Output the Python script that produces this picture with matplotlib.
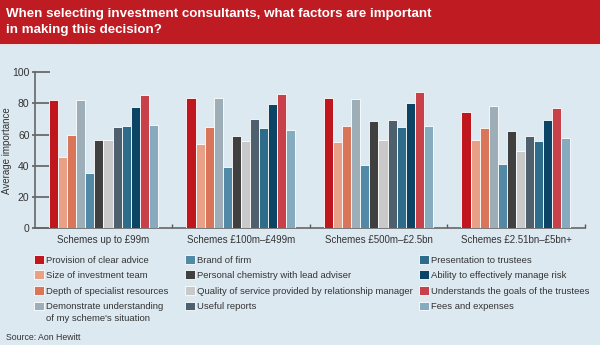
import matplotlib
matplotlib.use('Agg')
import matplotlib.pyplot as plt
import numpy as np

plt.rcParams['font.family'] = ['Liberation Sans', 'DejaVu Sans']

groups = ["Schemes up to £99m", "Schemes £100m–£499m",
          "Schemes £500m–£2.5bn", "Schemes £2.51bn–£5bn+"]

factors = [
    "Provision of clear advice",
    "Size of investment team",
    "Depth of specialist resources",
    "Demonstrate understanding",
    "Brand of firm",
    "Personal chemistry with lead adviser",
    "Quality of service provided by relationship manager",
    "Useful reports",
    "Presentation to trustees",
    "Ability to effectively manage risk",
    "Understands the goals of the trustees",
    "Fees and expenses",
]
# second line of the "Demonstrate understanding" entry
factor_wrap = "of my scheme's situation"

colors = ["#c0171f", "#e8a086", "#d9765a", "#9eaeb9", "#5289a7", "#404040",
          "#c9c9c9", "#4e606e", "#2d6d8b", "#0c4465", "#c8414a", "#86abbe"]

# average importance per factor, one value per scheme size
clear_advice = [82, 83.5, 83.3, 74.7]
team_size = [46, 54, 55.3, 56.6]
specialist = [60, 64.7, 65.4, 64.3]
understanding = [82, 83.3, 83.1, 78.6]
brand = [35.6, 39.3, 40.8, 41.4]
chemistry = [56.6, 59.4, 69, 62.2]
service = [56.6, 55.8, 56.4, 49.4]
reports = [64.7, 70.3, 69.6, 59]
presentation = [65.6, 64.1, 64.7, 56.2]
risk = [77.6, 79.7, 80.1, 69.2]
goals = [85.2, 85.9, 87.2, 76.9]
fees = [66, 62.8, 65.4, 57.9]

series = [clear_advice, team_size, specialist, understanding, brand, chemistry,
          service, reports, presentation, risk, goals, fees]

bg = "#dde9f1"
txt = "#333333"
fig = plt.figure(figsize=(6, 3.45), dpi=100, facecolor=bg)

# red title banner
fig.patches.append(plt.Rectangle((0, 1 - 44 / 345), 1, 44 / 345, transform=fig.transFigure,
                                 facecolor="#be1b23", edgecolor="none", zorder=0))
fig.patches.append(plt.Rectangle((0, 1 - 46 / 345), 1, 2 / 345, transform=fig.transFigure,
                                 facecolor="#f0dde0", edgecolor="none", zorder=0))
fig.text(6 / 600, 1 - 13.5 / 345, "When selecting investment consultants, what factors are important",
         color="white", fontsize=9.6, fontweight="bold", va="center", ha="left")
fig.text(6 / 600, 1 - 30.5 / 345, "in making this decision?",
         color="white", fontsize=9.6, fontweight="bold", va="center", ha="left")

ax = fig.add_axes([34.7 / 600, 1 - 228.3 / 345, 550 / 600, 156 / 345])
ax.set_facecolor(bg)

x = np.arange(len(groups))
width = 0.066
bars = []
for i, (vals, col) in enumerate(zip(series, colors)):
    b = ax.bar(x + (i - 5.5) * width, vals, width, color=col,
               edgecolor="white", linewidth=0.6, zorder=3)
    bars.append(b)

ax.set_xlim(-0.5, 3.5)
ax.set_ylim(0, 100)

for side in ["top", "right"]:
    ax.spines[side].set_visible(False)
for side in ["left", "bottom"]:
    ax.spines[side].set_color("#666666")
    ax.spines[side].set_linewidth(1.2)

ax.set_xticks(x)
ax.set_xticklabels(groups, fontsize=7, color=txt)
ax.tick_params(axis="x", which="major", length=0, pad=4.5)
ax.set_xticks([0.5, 1.5, 2.5, 3.5], minor=True)
ax.tick_params(axis="x", which="minor", direction="in", length=3, width=1, color="#555555")

ax.yaxis.remove_overlapping_locs = False
ax.set_yticks([0, 20, 40, 60, 80, 100])
ax.set_yticks([0, 20, 40, 60, 80, 100], minor=True)
ax.tick_params(axis="y", which="major", direction="out", length=2.5, width=1.1,
               color="#555555", labelsize=7.5, labelcolor=txt, pad=1.2)
ax.tick_params(axis="y", which="minor", direction="in", length=10.5, width=1.1, color="#555555")
ax.set_ylabel("Average importance", fontsize=7, color=txt)
ax.yaxis.set_label_coords(-0.042, 0.5)

# legend laid out in three columns of four factors
col_x = [32 / 600, 183 / 600, 417 / 600]
legends = []
for c in range(3):
    idx = range(c * 4, c * 4 + 4)
    leg = fig.legend([bars[i] for i in idx], [factors[i] for i in idx],
                     loc="upper left", bbox_to_anchor=(col_x[c], 1 - 253 / 345),
                     frameon=False, fontsize=6.8, handlelength=1.08, handleheight=1.08,
                     handletextpad=0.25, labelspacing=0.62, borderaxespad=0,
                     borderpad=0.2)
    for t in leg.get_texts():
        t.set_color(txt)
    legends.append(leg)

# put the wrapped second line under its legend entry
fig.canvas.draw()
first = legends[0].get_texts()[3].get_window_extent()
fig.text(first.x0 / fig.bbox.width, (first.y0 - 12) / fig.bbox.height, factor_wrap,
         fontsize=6.8, color=txt, ha="left", va="bottom")

fig.text(6 / 600, 1 - 338 / 345, "Source: Aon Hewitt", fontsize=6.3, color=txt,
         va="center", ha="left")

fig.savefig("out.png", dpi=100, facecolor=bg)
